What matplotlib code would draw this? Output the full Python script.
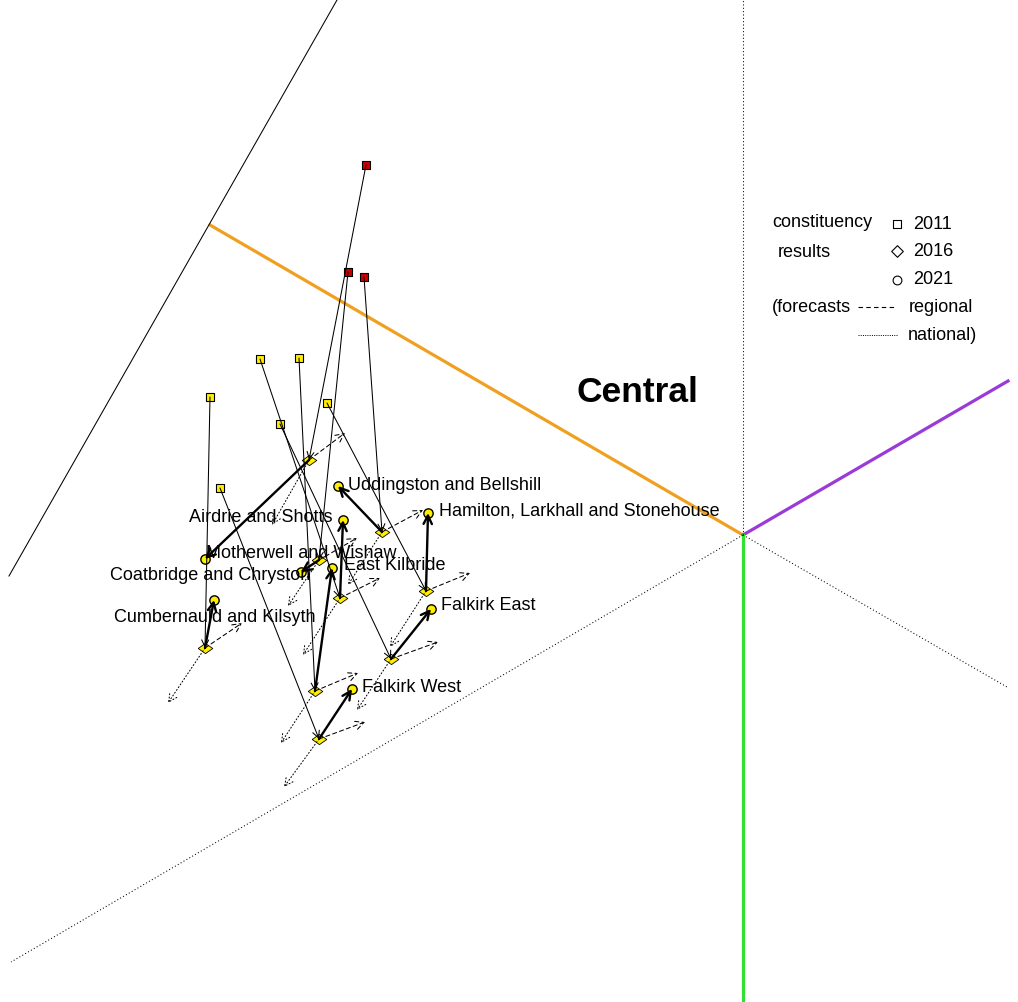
import matplotlib.pyplot as plt
import numpy as np

plt.rcParams['font.family'] = ['Liberation Sans', 'DejaVu Sans']

# constituencies, positions on the ternary-style plane (pixel-like units, y down)
names = ['Airdrie and Shotts', 'Coatbridge and Chryston', 'Cumbernauld and Kilsyth',
         'East Kilbride', 'Falkirk East', 'Falkirk West',
         'Hamilton, Larkhall and Stonehouse', 'Motherwell and Wishaw',
         'Uddingston and Bellshill']
winner_2011 = ['SNP', 'Lab', 'SNP', 'SNP', 'SNP', 'SNP', 'SNP', 'Lab', 'Lab']
x2011 = [260, 348, 210, 299, 280, 220, 327, 366, 364]
y2011 = [359, 272, 397, 358, 424, 488, 403, 165, 277]
x2016 = [340, 319, 205, 315, 391, 319, 426, 309, 382]
y2016 = [598, 560, 648, 691, 659, 739, 591, 460, 532]
x2021 = [343, 301, 214, 332, 431, 352, 428, 205, 338]
y2021 = [520, 572, 600, 568, 609, 689, 513, 559, 486]
# forecasts for 2021 made from 2016
xreg = [380, 357, 242, 358, 438, 365, 470, 345, 423]
yreg = [578, 538, 623, 673, 642, 722, 573, 433, 510]
xnat = [303, 288, 168, 281, 357, 284, 390, 272, 348]
ynat = [655, 606, 703, 743, 710, 787, 647, 525, 585]
# label anchors
lab_x = [333, 310, 215, 344, 441, 362, 439, 206, 348]
lab_y = [518, 576, 617, 566, 606, 687, 511, 554, 485]
lab_ha = ['right', 'right', 'center', 'left', 'left', 'left', 'left', 'left', 'left']

party_col = {'SNP': '#ffee00', 'Lab': '#cc0000'}
yellow = '#ffee00'

fig = plt.figure(figsize=(10.18, 10.02), dpi=100)
ax = fig.add_axes([0, 0, 1, 1])
ax.set_xlim(0, 1018)
ax.set_ylim(1002, 0)
ax.axis('off')

# frame of the region diagram
cx, cy = 743, 535
ax.plot([cx, 210], [cy, 225], color='#f0a020', lw=2.3, zorder=1)
ax.plot([cx, 1008], [cy, 381], color='#9a3ad8', lw=2.3, zorder=1)
ax.plot([cx, cx], [cy, 1002], color='#33e033', lw=2.3, zorder=1)
dot = dict(color='black', lw=0.75, linestyle=(0, (1, 2.2)), zorder=1)
ax.plot([cx, cx], [cy, 0], **dot)
ax.plot([cx, 11], [cy, 962], **dot)
ax.plot([cx, 1007], [cy, 687], **dot)
ax.plot([9, 337], [576, 0], color='black', lw=0.75, zorder=1)

ax.text(637, 392, 'Central', fontsize=25.5, fontweight='bold', ha='center', va='center')

head = '->,head_length=0.6,head_width=0.3'
for i in range(len(names)):
    a = (x2011[i], y2011[i])
    b = (x2016[i], y2016[i])
    c = (x2021[i], y2021[i])
    ax.annotate('', xy=b, xytext=a,
                arrowprops=dict(arrowstyle='->,head_length=0.5,head_width=0.25', lw=0.75,
                                color='black', shrinkA=0, shrinkB=0, mutation_scale=10),
                zorder=4)
    ax.annotate('', xy=(xreg[i], yreg[i]), xytext=b,
                arrowprops=dict(arrowstyle=head, lw=0.75, linestyle=(0, (4, 3)),
                                color='black', shrinkA=0, shrinkB=0, mutation_scale=10),
                zorder=4)
    ax.annotate('', xy=(xnat[i], ynat[i]), xytext=b,
                arrowprops=dict(arrowstyle=head, lw=0.75, linestyle=(0, (1, 2.2)),
                                color='black', shrinkA=0, shrinkB=0, mutation_scale=10),
                zorder=4)
    ax.annotate('', xy=c, xytext=b,
                arrowprops=dict(arrowstyle=head, lw=1.7, color='black',
                                shrinkA=0, shrinkB=0, mutation_scale=10),
                zorder=5)
    ax.text(lab_x[i], lab_y[i], names[i], fontsize=13, ha=lab_ha[i], va='center', zorder=6)

diamond = [(-1, 0), (0, -0.7), (1, 0), (0, 0.7), (-1, 0)]
ax.scatter(x2011, y2011, marker='s', s=40, c=[party_col[w] for w in winner_2011],
           edgecolors='black', linewidths=0.8, zorder=3)
ax.scatter(x2016, y2016, marker=diamond, s=110, c=yellow,
           edgecolors='black', linewidths=0.6, zorder=3)
ax.scatter(x2021, y2021, marker='o', s=45, c=yellow,
           edgecolors='black', linewidths=1.0, zorder=3)

# legend block
fs = 13
ax.text(822, 222, 'constituency', fontsize=fs, ha='center', va='center')
ax.text(804, 252, 'results', fontsize=fs, ha='center', va='center')
ax.text(772, 307, '(forecasts', fontsize=fs, ha='left', va='center')
ax.scatter([897], [224], marker='s', s=28, facecolors='white', edgecolors='black', linewidths=0.8)
ax.scatter([897], [251], marker='D', s=35, facecolors='white', edgecolors='black', linewidths=0.8)
ax.scatter([897], [280], marker='o', s=40, facecolors='white', edgecolors='black', linewidths=0.8)
for yy, t in zip([224, 251, 279], ['2011', '2016', '2021']):
    ax.text(913, yy, t, fontsize=fs, ha='left', va='center')
ax.plot([858, 895], [307, 307], color='black', lw=0.8, linestyle=(0, (4, 3)))
ax.plot([858, 897], [335, 335], color='black', lw=0.7, linestyle=(0, (1, 1.3)))
ax.text(909, 307, 'regional', fontsize=fs, ha='left', va='center')
ax.text(908, 335, 'national)', fontsize=fs, ha='left', va='center')

fig.savefig('out.png', dpi=100, facecolor='white')
